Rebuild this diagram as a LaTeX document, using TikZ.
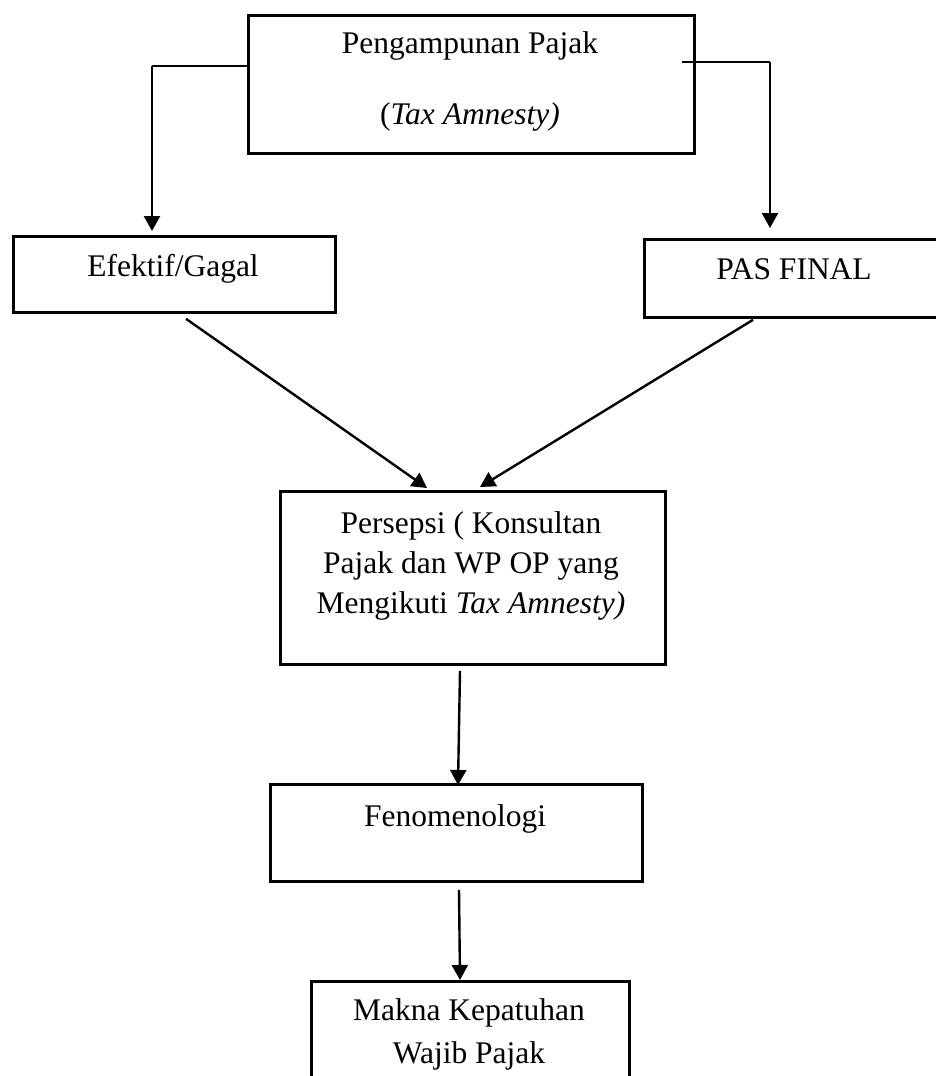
\documentclass[tikz,border=0pt]{standalone}
\usepackage{fontspec}
\setmainfont{Liberation Serif}
\usetikzlibrary{arrows.meta,calc}
\begin{document}
\begin{tikzpicture}[x=1pt,y=-1pt,
  box/.style={draw,line width=2.8pt,inner sep=0pt,anchor=north west},
  lbl/.style={anchor=base,font=\fontsize{31.5}{40}\selectfont,inner sep=0pt},
  conn/.style={line width=2.4pt,-{Triangle[length=15pt,width=16pt]}},
  thinline/.style={line width=1.6pt}]
\useasboundingbox (0,0) rectangle (935,1076);
% boxes
\node[box,minimum width=446pt,minimum height=138pt] (ta) at (247,14) {};
\node[box,minimum width=322pt,minimum height=76pt] (eg) at (12,235) {};
\node[box,minimum width=302pt,minimum height=78pt] (pf) at (643,238) {};
\node[box,minimum width=385pt,minimum height=173pt] (pp) at (279,490) {};
\node[box,minimum width=372pt,minimum height=97pt] (fn) at (269,783) {};
\node[box,minimum width=318pt,minimum height=130pt] (mk) at (310,980) {};
% texts
\node[lbl] (taA) at (470,53) {Pengampunan Pajak};
\node[lbl] (taB) at (470,124) {(\textit{Tax Amnesty)}};
\node[lbl] (egT) at (173,276) {Efektif/Gagal};
\node[lbl] (pfT) at (794,279) {PAS FINAL};
\node[lbl] (ppA) at (471,533) {Persepsi ( Konsultan};
\node[lbl] (ppB) at (471,573) {Pajak dan WP OP yang};
\node[lbl] (ppC) at (471,613) {Mengikuti \textit{Tax Amnesty)}};
\node[lbl] (fnT) at (455,826) {Fenomenologi};
\node[lbl] (mkA) at (469,1020) {Makna Kepatuhan};
\node[lbl] (mkB) at (469,1063) {Wajib Pajak};
% connectors
\coordinate (lc) at (152,66);
\coordinate (rc) at (770,62);
\draw[thinline] ($(ta.north west)+(0,52)$) -- (lc);
\draw[conn] (lc) -- ($(eg.north west)+(140,-4)$);
\draw[thinline] ($(ta.north east)+(-14,48)$) -- (rc);
\draw[conn] (rc) -- ($(pf.north west)+(127,-10)$);
\draw[conn] ($(eg.south west)+(174,5)$) -- ($(pp.north west)+(148,-2)$);
\draw[conn] ($(pf.south west)+(110,1)$) -- ($(pp.north west)+(201,-3)$);
\draw[conn] ($(pp.south west)+(181,5)$) -- ($(fn.north west)+(189,2)$);
\draw[conn] ($(fn.south west)+(190,7)$) -- ($(mk.north west)+(150,0)$);
\end{tikzpicture}
\end{document}
